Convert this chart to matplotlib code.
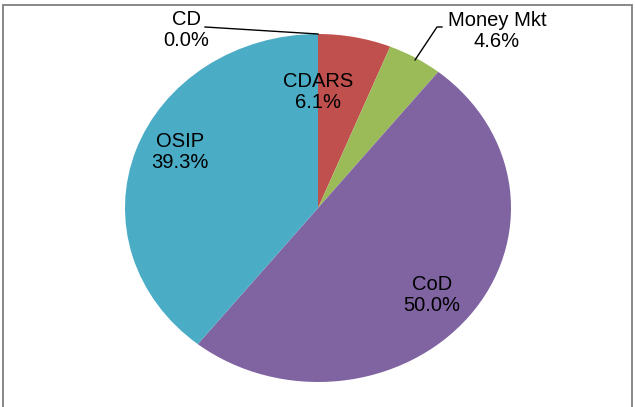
import matplotlib
matplotlib.use("Agg")
import matplotlib.pyplot as plt
from matplotlib.patches import Rectangle

plt.rcParams["font.family"] = ["Liberation Sans", "DejaVu Sans"]

# portfolio mix, clockwise from 12 o'clock
labels = ["CD", "CDARS", "Money Mkt", "CoD", "OSIP"]
shares = [0.0, 6.1, 4.6, 50.0, 39.3]
colors = ["#4F81BD", "#C0504D", "#9BBB59", "#8064A2", "#4BACC6"]

W, H = 635, 407
fig = plt.figure(figsize=(W / 100, H / 100), dpi=100)

# pie is drawn stretched (wider than tall), so the axes box sets the ellipse
cx, cy, rx, ry = 318, 208, 193, 174
ax = fig.add_axes([(cx - rx) / W, (H - cy - ry) / H, 2 * rx / W, 2 * ry / H])

wedges, _ = ax.pie(shares, colors=colors, startangle=90, counterclock=False,
                   radius=1.0, wedgeprops=dict(linewidth=0))
ax.set_aspect("auto")
ax.set_xlim(-1, 1)
ax.set_ylim(-1, 1)
ax.axis("off")


def to_data(px, py):
    return (px - cx) / rx, (cy - py) / ry


fs = 14.5
inside = {"CDARS": (318, 92), "OSIP": (180, 152), "CoD": (432, 295)}
outside = {"CD": (186, 30), "Money Mkt": (497, 31)}

for name, val in zip(labels, shares):
    txt = f"{name}\n{val:.1f}%"
    pos = inside.get(name, outside.get(name))
    ax.text(*to_data(*pos), txt, ha="center", va="center", fontsize=fs,
            color="black", linespacing=1.1, clip_on=False)

# leader lines for the two labels sitting outside the pie
lead_cd = [to_data(205, 27), to_data(318, 34)]
ax.plot([p[0] for p in lead_cd], [p[1] for p in lead_cd], color="black",
        lw=1.0, clip_on=False)
lead_mm = [to_data(442, 27), to_data(437, 27), to_data(415, 60)]
ax.plot([p[0] for p in lead_mm], [p[1] for p in lead_mm], color="black",
        lw=1.0, clip_on=False)

# chart-area border
fig.add_artist(Rectangle((3 / W, -0.02), (632 - 3) / W, (H - 5) / H + 0.02,
                         transform=fig.transFigure, fill=False,
                         ec="#7F7F7F", lw=1.3))

fig.savefig("out.png", dpi=100, facecolor="white")
